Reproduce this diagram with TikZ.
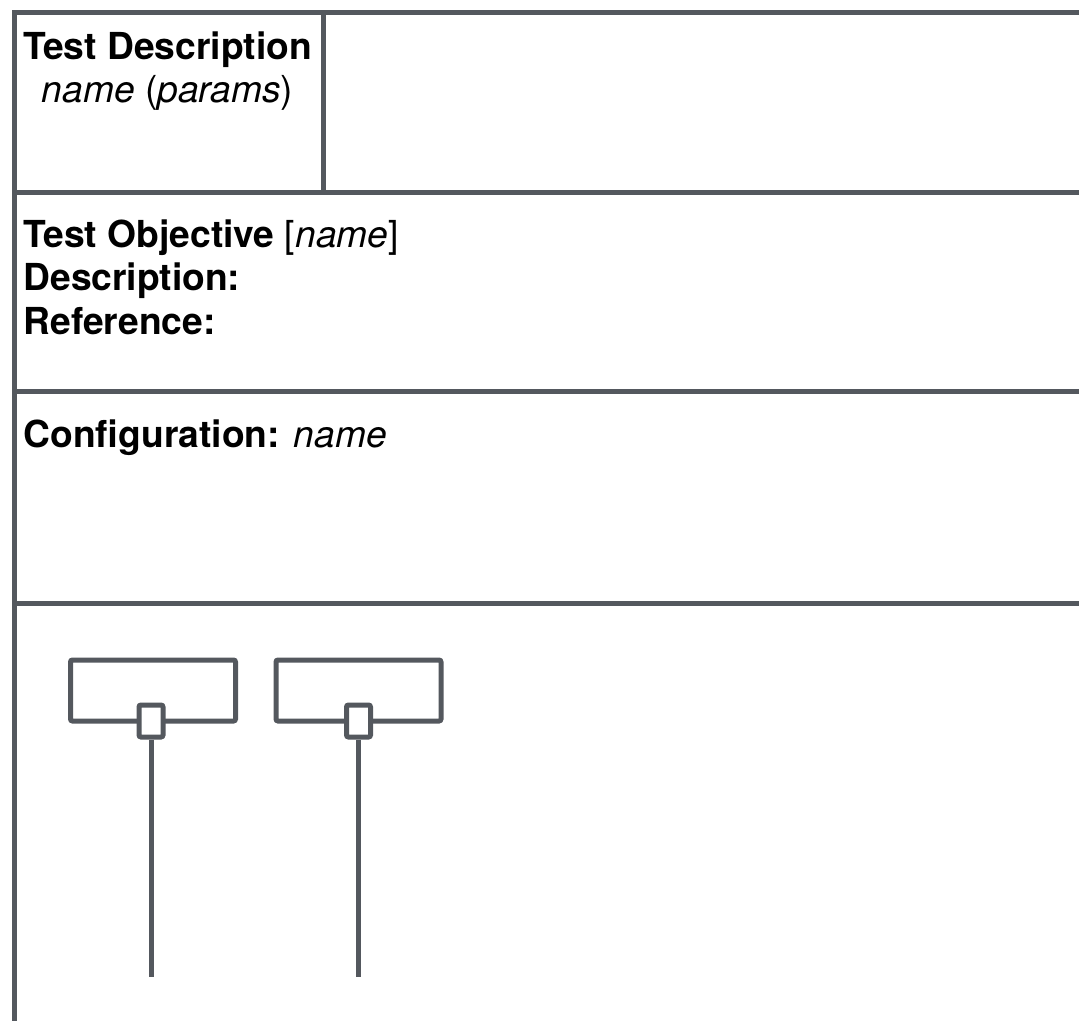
\documentclass[tikz,border=0pt]{standalone}
\usepackage{fontspec}
\setmainfont{TeX Gyre Heros}
\definecolor{frame}{RGB}{84,88,94}
\begin{document}
\begin{tikzpicture}[x=1pt,y=-1pt,
  rule/.style={draw=frame,line width=5pt},
  txt/.style={inner sep=0pt,outer sep=0pt,font=\fontsize{37.2}{43}\selectfont,text=black},
  compbox/.style={draw=frame,line width=5pt,rounded corners=2pt,minimum width=165pt,minimum height=61pt,inner sep=0pt,fill=white},
  portbox/.style={draw=frame,line width=5pt,rounded corners=2pt,minimum width=24pt,minimum height=32pt,inner sep=0pt,fill=white},
  wire/.style={draw=frame,line width=5pt}]
\useasboundingbox (0,0) rectangle (1079,1021);
% frame
\draw[rule,line join=miter] (1079,12) -- (14.5,12) -- (14.5,1021);
\draw[rule] (323.5,12) -- (323.5,192.5);
\draw[rule] (14.5,192.5) -- (1079,192.5);
\draw[rule] (14.5,391) -- (1079,391);
\draw[rule] (14.5,603) -- (1079,603);
% texts
\node[txt,anchor=base] (td) at (167.5,59) {\textbf{Test Description}};
\node[txt,anchor=base] (tp) at (167.5,102) {\textit{name} (\textit{params})};
\node[txt,anchor=base west] (to) at (23.5,247) {\textbf{Test Objective} [\textit{name}]};
\node[txt,anchor=base west] (de) at (23.5,290.5) {\textbf{Description:}};
\node[txt,anchor=base west] (re) at (23.5,334.5) {\textbf{Reference:}};
\node[txt,anchor=base west] (co) at (23.5,447.5) {\textbf{Configuration:} \textit{name}};
% components
\node[compbox] (b1) at (153,690.5) {};
\node[compbox] (b2) at (358.5,690.5) {};
\node[portbox] (p1) at (151,721) {};
\node[portbox] (p2) at (358.5,721) {};
\coordinate (e1) at (151,977);
\coordinate (e2) at (358.5,977);
\draw[wire] (p1.south) -- (e1);
\draw[wire] (p2.south) -- (e2);
\end{tikzpicture}
\end{document}
